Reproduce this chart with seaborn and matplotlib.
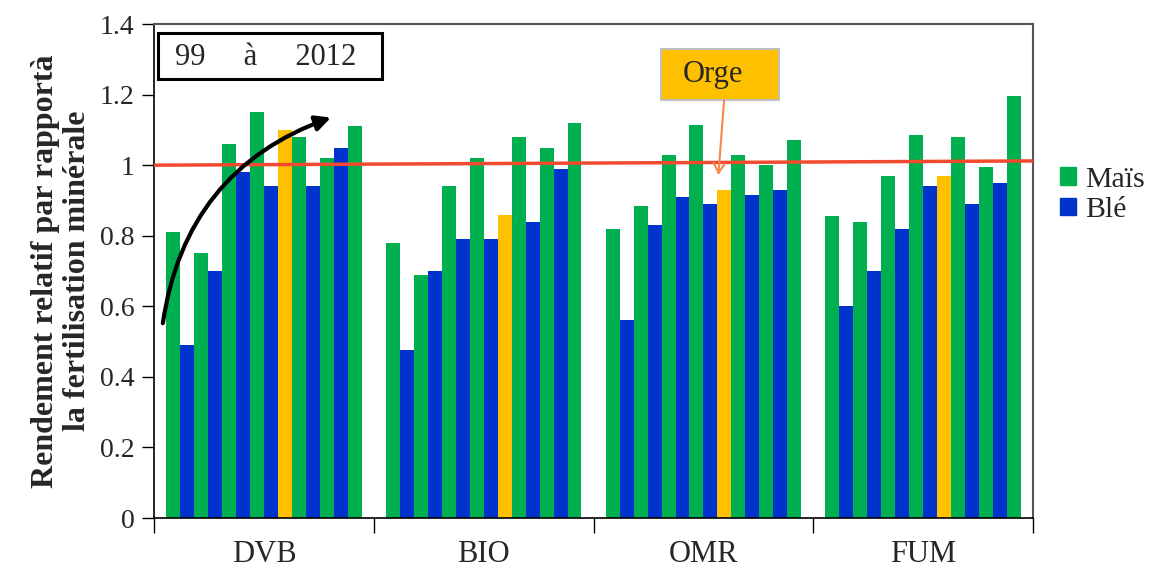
import pandas as pd
import numpy as np
import matplotlib
matplotlib.use("Agg")
import matplotlib.pyplot as plt
from matplotlib.patches import Patch, Rectangle
import seaborn as sns

# ==========================================
# DATA
# ==========================================

groups = ["DVB", "BIO", "OMR", "FUM"]

# crop grown each year, 99 -> 2012 (14 bars per treatment)
crops = ["Maïs", "Blé", "Maïs", "Blé", "Maïs", "Blé", "Maïs", "Blé",
         "Orge", "Maïs", "Blé", "Maïs", "Blé", "Maïs"]

dvb = [0.81, 0.49, 0.75, 0.70, 1.06, 0.98, 1.15, 0.94, 1.10, 1.08, 0.94, 1.02, 1.05, 1.11]
bio = [0.78, 0.475, 0.69, 0.70, 0.94, 0.79, 1.02, 0.79, 0.86, 1.08, 0.84, 1.05, 0.99, 1.12]
omr = [0.82, 0.56, 0.885, 0.83, 1.03, 0.91, 1.115, 0.89, 0.93, 1.03, 0.915, 1.0, 0.93, 1.07]
fum = [0.855, 0.60, 0.84, 0.70, 0.97, 0.82, 1.085, 0.94, 0.97, 1.08, 0.89, 0.995, 0.95, 1.195]

# reference line (fertilisation minérale = 1), slightly tilted in the original
ref_line = [1.0, 1.012]

yticks = [0, 0.2, 0.4, 0.6, 0.8, 1.0, 1.2, 1.4]
ytick_labels = ["0", "0.2", "0.4", "0.6", "0.8", "1", "1.2", "1.4"]

crop_colors = {"Maïs": "#00B050", "Blé": "#0033CC", "Orge": "#FFC000"}

# ==========================================
# LONG FORMAT TABLE
# ==========================================

rows = []
for g, vals in zip(groups, [dvb, bio, omr, fum]):
    for i, v in enumerate(vals):
        rows.append({"Traitement": g, "Annee": str(i), "Rendement": v})
df = pd.DataFrame(rows)

slots = [str(i) for i in range(len(crops))]
palette = {s: crop_colors[c] for s, c in zip(slots, crops)}

# ==========================================
# PLOT
# ==========================================

sns.set_style("ticks")
plt.rcParams["font.family"] = ["Liberation Serif", "DejaVu Serif"]

fig = plt.figure(figsize=(11.53, 5.68), dpi=100)
ax = fig.add_axes([0.1336, 0.088, 0.7624, 0.8697])

sns.barplot(
    data=df,
    x="Traitement",
    y="Rendement",
    hue="Annee",
    hue_order=slots,
    order=groups,
    palette=palette,
    width=0.89,
    gap=0,
    saturation=1,
    linewidth=0,
    legend=False,
    ax=ax
)

# red reference line
ax.plot([-0.5, 3.5], ref_line, color="#F24A2E", lw=2.5, zorder=5)

ax.set_xlim(-0.5, 3.5)
ax.set_ylim(0, 1.4)
ax.set_yticks(yticks)
ax.set_yticklabels(ytick_labels, fontsize=20)
ax.tick_params(axis="y", length=9, width=1, color="black", pad=5)

ax.set_xticks(range(len(groups)))
ax.set_xticklabels(groups, fontsize=22)
ax.set_xticks(np.arange(-0.5, len(groups)), minor=True)
ax.tick_params(axis="x", which="major", length=0, pad=16)
ax.tick_params(axis="x", which="minor", length=11, width=1, color="black")

ax.set_xlabel("")
ax.set_ylabel("Rendement relatif par rapportà\nla fertilisation minérale",
              fontsize=23, fontweight="bold", labelpad=6, linespacing=1.1)

for side in ["left", "bottom"]:
    ax.spines[side].set_color("black")
    ax.spines[side].set_linewidth(1.2)
for side in ["top", "right"]:
    ax.spines[side].set_visible(True)
    ax.spines[side].set_color("#555555")
    ax.spines[side].set_linewidth(1.5)

# "99 à 2012" box
ax.add_patch(Rectangle((0.005, 0.889), 0.2548, 0.093, transform=ax.transAxes,
                       fill=False, ec="black", lw=2.2, zorder=6))
ax.text(0.127, 0.933, "99     à     2012", transform=ax.transAxes,
        ha="center", va="center", fontsize=22, zorder=7)

# black curved arrow (trend)
ax.annotate("", xy=(0.305, 1.135), xytext=(-0.46, 0.552),
            arrowprops=dict(arrowstyle="-|>,head_length=0.9,head_width=0.45",
                            connectionstyle="arc3,rad=-0.3",
                            color="black", lw=3, shrinkA=0, shrinkB=0),
            zorder=8)

# Orge callout
ax.add_patch(Rectangle((0.577, 0.846), 0.134, 0.103, transform=ax.transAxes,
                       fc="#FFC000", ec="#BFBFBF", lw=1.5, zorder=6))
ax.text(0.601, 0.897, "Orge", transform=ax.transAxes,
        ha="left", va="center", fontsize=22, zorder=7)
ax.annotate("", xy=(2.068, 0.972), xycoords="data",
            xytext=(0.6485, 0.846), textcoords="axes fraction",
            arrowprops=dict(arrowstyle="->,head_length=0.7,head_width=0.4",
                            color="#F4874B", lw=1.5, shrinkA=0, shrinkB=0),
            zorder=7)

# legend (Maïs / Blé only)
handles = [Patch(color=crop_colors["Maïs"], label="Maïs"),
           Patch(color=crop_colors["Blé"], label="Blé")]
fig.legend(handles=handles, loc="center left", bbox_to_anchor=(0.909, 0.657),
           frameon=False, fontsize=21.5, handlelength=0.55, handleheight=0.55,
           handletextpad=0.3, labelspacing=0.15, borderaxespad=0)

fig.savefig("out.png", dpi=100)
